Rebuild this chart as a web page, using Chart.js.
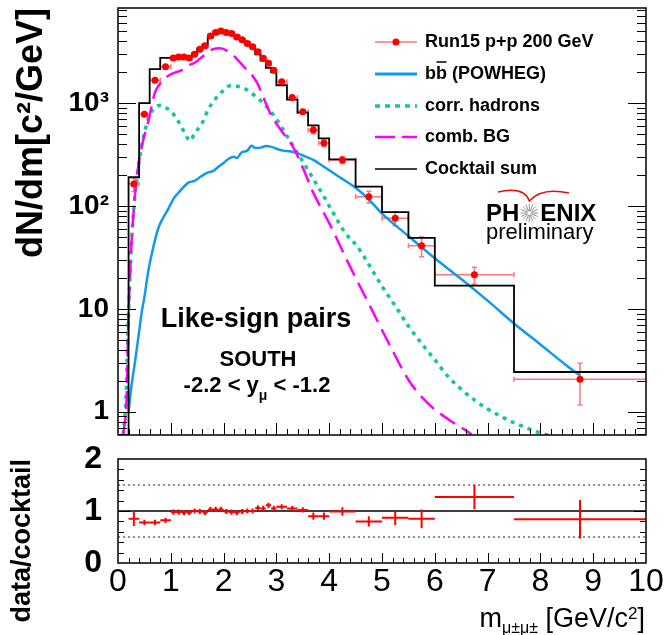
<!DOCTYPE html>
<html>
<head>
<meta charset="utf-8">
<script src="https://cdn.jsdelivr.net/npm/chart.js@4.4.1/dist/chart.umd.min.js"></script>
<style>
  html, body { margin: 0; padding: 0; background: #fff; }
  #wrap { position: relative; width: 667px; height: 635px; }
  #top { position: absolute; left: 0; top: 0; }
  #bottom { position: absolute; left: 0; top: 445px; }
</style>
</head>
<body>
<div id="wrap">
  <canvas id="top" width="667" height="445"></canvas>
  <canvas id="bottom" width="667" height="190"></canvas>
</div>
<script>
// Run15 p+p data (bin centres, half widths, yields, errors)
const dataMass = [0.3, 0.5, 0.7, 0.9,
    1.05, 1.15, 1.25, 1.35, 1.45, 1.55, 1.65, 1.75, 1.85, 1.95,
    2.05, 2.15, 2.25, 2.35, 2.45, 2.55, 2.65, 2.75, 2.85, 2.95,
    3.1, 3.3, 3.5, 3.7, 3.9, 4.25, 4.75, 5.25, 5.75, 6.75, 8.75];
const dataXerr = [0.1, 0.1, 0.1, 0.1,
    0.05, 0.05, 0.05, 0.05, 0.05, 0.05, 0.05, 0.05, 0.05, 0.05,
    0.05, 0.05, 0.05, 0.05, 0.05, 0.05, 0.05, 0.05, 0.05, 0.05,
    0.1, 0.1, 0.1, 0.1, 0.1, 0.25, 0.25, 0.25, 0.25, 0.75, 1.25];
const dataYield = [163, 780, 1670, 2250,
    2740, 2800, 2800, 2740, 2990, 3340, 3600, 4500, 4850, 5020,
    4850, 4750, 4400, 4120, 3800, 3520, 3150, 2720, 2440, 2090,
    1610, 1136, 824, 547, 409, 280, 123, 76, 41, 21.4, 2.06];
const dataYerr = [25, 25, 50, 65,
    80, 85, 85, 85, 90, 100, 110, 135, 145, 150,
    145, 145, 135, 125, 115, 105, 95, 85, 75, 65,
    50, 40, 33, 44, 33, 22, 16, 12, 9, 4, 0.9];

// cocktail sum histogram: bin edges and contents
const cocktailEdges = [0, 0.2, 0.4, 0.6, 0.8,
    1.0, 1.1, 1.2, 1.3, 1.4, 1.5, 1.6, 1.7, 1.8, 1.9,
    2.0, 2.1, 2.2, 2.3, 2.4, 2.5, 2.6, 2.7, 2.8, 2.9,
    3.0, 3.2, 3.4, 3.6, 3.8, 4.0, 4.5, 5.0, 5.5, 6.0, 7.5, 10];
const cocktailSum = [0.1, 190, 1000, 2140, 2750,
    2800, 2850, 2880, 2820, 3000, 3370, 3700, 4370, 4700, 4870,
    4900, 4850, 4530, 4160, 3800, 3520, 2970, 2590, 2200, 1990,
    1490, 1080, 808, 608, 454, 284, 154, 87, 49, 16.8, 2.43];

// b-bbar (POWHEG)
const bbMass = [0.2, 0.25, 0.32, 0.4, 0.45, 0.5, 0.57, 0.65, 0.76, 0.85, 0.95,
    1.05, 1.15, 1.27, 1.35, 1.46, 1.55, 1.65, 1.71, 1.8, 1.9, 2.0, 2.09, 2.2, 2.25,
    2.34, 2.45, 2.53, 2.6, 2.72, 2.8, 2.91, 3.0, 3.13, 3.25, 3.38, 3.5, 3.7, 3.9,
    4.2, 4.5, 4.75, 5.0, 5.5, 6.0, 6.5, 7.0, 7.5, 8.0, 8.5, 8.75];
const bbYield = [1.0, 1.7, 3.0, 6, 9.3, 13, 22.7, 36, 60, 76, 93,
    117, 135, 158, 170, 176, 190, 205, 212, 218, 240, 262, 286, 300, 292,
    331, 345, 385, 366, 371, 382, 375, 360, 345, 340, 328, 310, 280, 240,
    190, 150, 116, 84, 51, 31, 19.5, 12, 7.2, 4.5, 2.8, 2.25];

// correlated hadrons
const hadMass = [0.1, 0.15, 0.2, 0.25, 0.3, 0.38, 0.45, 0.51, 0.6, 0.7, 0.8, 0.9,
    1.0, 1.1, 1.2, 1.3, 1.36, 1.45, 1.6, 1.7, 1.84, 2.0, 2.12, 2.25, 2.4, 2.6,
    2.8, 3.0, 3.2, 3.32, 3.5, 3.7, 3.9, 4.14, 4.3, 4.52, 4.75, 5.0, 5.25, 5.5,
    5.75, 6.0, 6.25, 6.5, 6.75, 7.0, 7.25, 7.5, 7.75, 8.0, 8.3];
const hadYield = [0.6, 1.3, 9, 38, 95, 230, 390, 540, 760, 900, 950, 900,
    840, 720, 590, 470, 430, 505, 650, 850, 1090, 1330, 1470, 1460, 1380, 1170,
    940, 700, 480, 380, 270, 183, 123, 75, 55, 41, 27, 16.6, 10.7, 6.8,
    4.6, 3.2, 2.2, 1.65, 1.3, 1.06, 0.9, 0.78, 0.69, 0.62, 0.57];

// combinatorial background
const combMass = [0.1, 0.165, 0.2, 0.25, 0.3, 0.35, 0.45, 0.57, 0.7, 0.8, 0.89,
    1.0, 1.1, 1.2, 1.36, 1.46, 1.62, 1.8, 1.93, 2.12, 2.37, 2.63, 2.88, 3.07,
    3.32, 3.5, 3.7, 4.02, 4.39, 4.77, 5.15, 5.53, 5.91, 6.29, 6.6, 6.7];
const combYield = [0.6, 1.45, 9, 38, 95, 180, 380, 650, 1270, 1550, 1750,
    1900, 2000, 2080, 2350, 2480, 2890, 3340, 3420, 3100, 2300, 1590, 800, 560,
    371, 235, 134, 65, 26, 10.7, 4.4, 1.93, 1.15, 0.82, 0.65, 0.6];

// data / cocktail
const ratioVals = [0.85, 0.78, 0.78, 0.82,
    0.98, 0.98, 0.97, 0.97, 1.0, 0.99, 0.97, 1.03, 1.03, 1.03,
    0.99, 0.98, 0.97, 0.99, 1.0, 1.0, 1.06, 1.05, 1.11, 1.05,
    1.08, 1.05, 1.02, 0.90, 0.90, 0.99, 0.80, 0.87, 0.85, 1.27, 0.84];
const ratioErr = [0.14, 0.05, 0.05, 0.05,
    0.05, 0.05, 0.05, 0.05, 0.05, 0.05, 0.05, 0.05, 0.05, 0.05,
    0.05, 0.05, 0.05, 0.05, 0.05, 0.05, 0.05, 0.05, 0.05, 0.05,
    0.05, 0.05, 0.05, 0.07, 0.07, 0.08, 0.1, 0.14, 0.18, 0.23, 0.37];
const unityLevel = [1];
const dottedLevels = [0.5, 1.5];

// axis ticks
const yTicks = [1, 10, 100, 1000];
const yTickLabels = ['1', '10', '10²', '10³'];
const ratioTicks = [0, 1, 2];
const massTicks = [0, 1, 2, 3, 4, 5, 6, 7, 8, 9, 10];

const FONT = "'Liberation Sans', Arial, Helvetica, sans-serif";
const RED_ERR = 'rgba(255, 30, 30, 0.6)';
const BLUE = '#1199f0';
const GREEN = '#13c79a';
const MAGENTA = '#ff00ff';

function toPoints(xs, ys) {
    return xs.map((x, i) => ({ x: x, y: ys[i] }));
}

function histPoints(edges, vals) {
    const pts = vals.map((v, i) => ({ x: edges[i], y: v }));
    pts.push({ x: edges[edges.length - 1], y: vals[vals.length - 1] });
    return pts;
}

function levelLine(level) {
    return [{ x: 0, y: level }, { x: 10, y: level }];
}

// error bars drawn through the chart scales
function errorBarPlugin(id, hook, xs, ys, xerr, yerr, style) {
    return {
        id: id,
        [hook](chart) {
            const { ctx, chartArea, scales } = chart;
            const sx = scales.x, sy = scales.y;
            ctx.save();
            ctx.beginPath();
            ctx.rect(chartArea.left, chartArea.top, chartArea.width, chartArea.height);
            ctx.clip();
            ctx.strokeStyle = style.color;
            ctx.lineWidth = style.width;
            xs.forEach((m, i) => {
                const px = sx.getPixelForValue(m);
                const py = sy.getPixelForValue(ys[i]);
                const x0 = sx.getPixelForValue(m - xerr[i]);
                const x1 = sx.getPixelForValue(m + xerr[i]);
                const y0 = sy.getPixelForValue(ys[i] - yerr[i]);
                const y1 = sy.getPixelForValue(ys[i] + yerr[i]);
                ctx.beginPath();
                ctx.moveTo(x0, py); ctx.lineTo(x1, py);
                ctx.moveTo(px, y0); ctx.lineTo(px, y1);
                if (style.cap) {
                    const c = style.cap;
                    ctx.moveTo(x0, py - c); ctx.lineTo(x0, py + c);
                    ctx.moveTo(x1, py - c); ctx.lineTo(x1, py + c);
                    ctx.moveTo(px - c, y0); ctx.lineTo(px + c, y0);
                    ctx.moveTo(px - c, y1); ctx.lineTo(px + c, y1);
                }
                ctx.stroke();
            });
            ctx.restore();
        }
    };
}

// ROOT-style frame with inward ticks
function framePlugin(id, tickSet) {
    return {
        id: id,
        afterDraw(chart) {
            const { ctx, chartArea: a, scales } = chart;
            ctx.save();
            ctx.strokeStyle = '#000';
            ctx.lineWidth = 1;
            ctx.beginPath();
            tickSet.y.forEach(t => {
                const py = Math.round(scales.y.getPixelForValue(t.v)) + 0.5;
                ctx.moveTo(a.left, py); ctx.lineTo(a.left + t.len, py);
                ctx.moveTo(a.right, py); ctx.lineTo(a.right - t.len, py);
            });
            tickSet.x.forEach(t => {
                const px = Math.round(scales.x.getPixelForValue(t.v)) + 0.5;
                ctx.moveTo(px, a.bottom); ctx.lineTo(px, a.bottom - t.len);
            });
            ctx.stroke();
            ctx.lineWidth = 1.5;
            ctx.strokeRect(a.left, a.top, a.right - a.left, a.bottom - a.top);
            ctx.restore();
        }
    };
}

function logTickSet(min, max) {
    const ys = [];
    for (let d = -1; d <= 4; d++) {
        for (let k = 1; k <= 9; k++) {
            const v = k * Math.pow(10, d);
            if (v > min && v < max) ys.push({ v: v, len: k === 1 ? 18 : 9 });
        }
    }
    return ys;
}

function linTickSet(from, to, step, every, majorLen, minorLen) {
    const out = [];
    const n = Math.round((to - from) / step);
    for (let i = 1; i < n; i++) {
        out.push({ v: from + i * step, len: i % every === 0 ? majorLen : minorLen });
    }
    return out;
}

function drawParts(ctx, parts, x, y, align) {
    let total = 0;
    parts.forEach(p => { ctx.font = p.font; p.w = ctx.measureText(p.t).width; total += p.w; });
    let cx = align === 'center' ? x - total / 2 : align === 'right' ? x - total : x;
    parts.forEach(p => {
        ctx.font = p.font;
        ctx.fillText(p.t, cx, y + (p.dy || 0));
        cx += p.w;
    });
}

// legend, labels and logo in the upper panel
const upperTextPlugin = {
    id: 'upperText',
    afterDraw(chart) {
        const ctx = chart.ctx;
        ctx.save();
        ctx.fillStyle = '#000';
        ctx.textBaseline = 'middle';

        const rows = [42, 74, 106, 137, 169];
        const x0 = 375, x1 = 417, tx = 425;
        ctx.lineCap = 'butt';
        // data
        ctx.strokeStyle = RED_ERR; ctx.lineWidth = 1.5;
        ctx.beginPath(); ctx.moveTo(x0, rows[0]); ctx.lineTo(x1, rows[0]); ctx.stroke();
        ctx.fillStyle = '#ff0000';
        ctx.beginPath(); ctx.arc((x0 + x1) / 2, rows[0], 3.5, 0, Math.PI * 2); ctx.fill();
        // bb
        ctx.strokeStyle = BLUE; ctx.lineWidth = 3;
        ctx.beginPath(); ctx.moveTo(x0, rows[1]); ctx.lineTo(x1, rows[1]); ctx.stroke();
        // hadrons
        ctx.strokeStyle = GREEN; ctx.lineWidth = 3.5; ctx.setLineDash([5, 5]);
        ctx.beginPath(); ctx.moveTo(x0, rows[2]); ctx.lineTo(x1, rows[2]); ctx.stroke();
        // comb
        ctx.strokeStyle = MAGENTA; ctx.lineWidth = 2.5; ctx.setLineDash([20, 7]);
        ctx.beginPath(); ctx.moveTo(x0, rows[3]); ctx.lineTo(x1, rows[3]); ctx.stroke();
        ctx.setLineDash([]);
        // cocktail
        ctx.strokeStyle = '#000'; ctx.lineWidth = 1.5;
        ctx.beginPath(); ctx.moveTo(x0, rows[4]); ctx.lineTo(x1, rows[4]); ctx.stroke();

        ctx.fillStyle = '#000';
        ctx.font = 'bold 18px ' + FONT;
        ctx.fillText('Run15 p+p 200 GeV', tx, rows[0]);
        const bw = ctx.measureText('b').width;
        ctx.fillText('bb (POWHEG)', tx, rows[1]);
        ctx.lineWidth = 1.5;
        ctx.beginPath(); ctx.moveTo(tx + bw + 0.5, rows[1] - 12); ctx.lineTo(tx + 2 * bw - 0.5, rows[1] - 12); ctx.stroke();
        ctx.fillText('corr. hadrons', tx, rows[2]);
        ctx.fillText('comb. BG', tx, rows[3]);
        ctx.fillText('Cocktail sum', tx, rows[4]);

        // labels
        ctx.textAlign = 'center';
        ctx.font = 'bold 27px ' + FONT;
        ctx.fillText('Like-sign pairs', 256, 320);
        ctx.font = 'bold 22px ' + FONT;
        ctx.fillText('SOUTH', 258, 360);
        ctx.textAlign = 'left';
        drawParts(ctx, [
            { t: '-2.2 < y', font: 'bold 22px ' + FONT },
            { t: 'μ', font: 'bold 14px ' + FONT, dy: 10 },
            { t: ' < -1.2', font: 'bold 22px ' + FONT }
        ], 257, 386, 'center');

        // PHENIX preliminary
        ctx.font = 'bold 24px ' + FONT;
        ctx.fillText('PH', 486, 214);
        const phw = ctx.measureText('PH').width;
        const sx = 486 + phw + 10, sy = 213;
        ctx.fillText('ENIX', sx + 11, 214);
        ctx.strokeStyle = '#777'; ctx.lineWidth = 0.8;
        ctx.beginPath();
        for (let k = 0; k < 16; k++) {
            const ang = k * Math.PI / 8;
            ctx.moveTo(sx + 2 * Math.cos(ang), sy + 2 * Math.sin(ang));
            ctx.lineTo(sx + 9 * Math.cos(ang), sy + 9 * Math.sin(ang));
        }
        ctx.stroke();
        ctx.strokeStyle = '#e01010'; ctx.lineWidth = 1.6;
        ctx.beginPath();
        ctx.moveTo(498, 192);
        ctx.quadraticCurveTo(524, 186, sx, 201);
        ctx.quadraticCurveTo(sx + 12, 187, 569, 193);
        ctx.stroke();
        ctx.font = '22px ' + FONT;
        ctx.fillText('preliminary', 486, 233);
        ctx.restore();
    }
};

const xTitlePlugin = {
    id: 'xTitle',
    afterDraw(chart) {
        const ctx = chart.ctx;
        ctx.save();
        ctx.fillStyle = '#000';
        ctx.textBaseline = 'alphabetic';
        drawParts(ctx, [
            { t: 'm', font: '27px ' + FONT },
            { t: 'μ±μ±', font: '16px ' + FONT, dy: 6 },
            { t: ' [GeV/c', font: '27px ' + FONT },
            { t: '2', font: '17px ' + FONT, dy: -8 },
            { t: ']', font: '27px ' + FONT }
        ], 645, 182, 'right');
        ctx.restore();
    }
};

const upperY = { min: 0.593, max: 8400 };

new Chart(document.getElementById('top'), {
    type: 'line',
    data: {
        datasets: [
            {
                label: 'Run15 p+p 200 GeV',
                data: toPoints(dataMass, dataYield),
                showLine: false,
                pointRadius: 3.5,
                pointBackgroundColor: '#ff0000',
                pointBorderWidth: 0
            },
            {
                label: 'Cocktail sum',
                data: histPoints(cocktailEdges, cocktailSum),
                stepped: 'before',
                borderColor: '#000',
                borderWidth: 1.8,
                pointRadius: 0
            },
            {
                label: 'comb. BG',
                data: toPoints(combMass, combYield),
                borderColor: MAGENTA,
                borderWidth: 2.5,
                borderDash: [18, 8],
                cubicInterpolationMode: 'monotone',
                pointRadius: 0
            },
            {
                label: 'corr. hadrons',
                data: toPoints(hadMass, hadYield),
                borderColor: GREEN,
                borderWidth: 3.5,
                borderDash: [4, 5],
                cubicInterpolationMode: 'monotone',
                pointRadius: 0
            },
            {
                label: 'bb (POWHEG)',
                data: toPoints(bbMass, bbYield),
                borderColor: BLUE,
                borderWidth: 2.5,
                cubicInterpolationMode: 'monotone',
                pointRadius: 0
            }
        ]
    },
    options: {
        animation: false,
        responsive: false,
        events: [],
        layout: { padding: { left: 0, right: 21, top: 8, bottom: 10 } },
        scales: {
            x: { type: 'linear', min: 0, max: 10, display: false },
            y: {
                type: 'logarithmic',
                min: upperY.min,
                max: upperY.max,
                afterBuildTicks: s => { s.ticks = yTicks.map(v => ({ value: v })); },
                afterFit: s => { s.width = 118; s.paddingTop = 0; s.paddingBottom = 0; },
                grid: { display: false, drawTicks: false },
                border: { display: false },
                ticks: {
                    autoSkip: false,
                    padding: 9,
                    color: '#000',
                    font: { family: FONT, size: 28, weight: 'bold' },
                    callback: v => yTickLabels[yTicks.indexOf(v)]
                },
                title: {
                    display: true,
                    text: 'dN/dm[c²/GeV]',
                    align: 'end',
                    color: '#000',
                    padding: { top: 14, bottom: 0 },
                    font: { family: FONT, size: 36, weight: 'bold', lineHeight: 1 }
                }
            }
        },
        plugins: { legend: { display: false }, tooltip: { enabled: false } }
    },
    plugins: [
        errorBarPlugin('dataErr', 'beforeDatasetsDraw', dataMass, dataYield, dataXerr, dataYerr,
            { color: RED_ERR, width: 1.5, cap: 2.5 }),
        framePlugin('upperFrame', {
            y: logTickSet(upperY.min, upperY.max),
            x: linTickSet(0, 10, 0.2, 5, 12, 6)
        }),
        upperTextPlugin
    ]
});

new Chart(document.getElementById('bottom'), {
    type: 'line',
    data: {
        datasets: [
            {
                label: 'unity',
                data: levelLine(unityLevel[0]),
                borderColor: '#000',
                borderWidth: 1.5,
                pointRadius: 0
            },
            {
                label: 'low',
                data: levelLine(dottedLevels[0]),
                borderColor: '#222',
                borderWidth: 1,
                borderDash: [2, 3],
                pointRadius: 0
            },
            {
                label: 'high',
                data: levelLine(dottedLevels[1]),
                borderColor: '#222',
                borderWidth: 1,
                borderDash: [2, 3],
                pointRadius: 0
            },
            {
                label: 'data/cocktail',
                data: toPoints(dataMass, ratioVals),
                showLine: false,
                pointRadius: 0
            }
        ]
    },
    options: {
        animation: false,
        responsive: false,
        events: [],
        layout: { padding: { left: 0, right: 21, top: 14, bottom: 0 } },
        scales: {
            x: {
                type: 'linear',
                min: 0,
                max: 10,
                afterBuildTicks: s => { s.ticks = massTicks.map(v => ({ value: v })); },
                afterFit: s => { s.height = 72; s.paddingLeft = 0; s.paddingRight = 0; },
                grid: { display: false, drawTicks: false },
                border: { display: false },
                ticks: {
                    autoSkip: false,
                    maxRotation: 0,
                    padding: 0,
                    color: '#000',
                    font: { family: FONT, size: 32, lineHeight: 1.2 }
                }
            },
            y: {
                type: 'linear',
                min: 0,
                max: 2,
                afterBuildTicks: s => { s.ticks = ratioTicks.map(v => ({ value: v })); },
                afterFit: s => { s.width = 118; s.paddingTop = 0; s.paddingBottom = 0; },
                grid: { display: false, drawTicks: false },
                border: { display: false },
                ticks: {
                    autoSkip: false,
                    padding: 16,
                    color: '#000',
                    font: { family: FONT, size: 32, weight: 'bold' }
                },
                title: {
                    display: true,
                    text: 'data/cocktail',
                    align: 'end',
                    color: '#000',
                    padding: { top: 9, bottom: 0 },
                    font: { family: FONT, size: 27, weight: 'bold', lineHeight: 1 }
                }
            }
        },
        plugins: { legend: { display: false }, tooltip: { enabled: false } }
    },
    plugins: [
        errorBarPlugin('ratioErr', 'afterDatasetsDraw', dataMass, ratioVals, dataXerr, ratioErr,
            { color: '#ff0000', width: 2 }),
        framePlugin('lowerFrame', {
            y: linTickSet(0, 2, 0.2, 5, 12, 6),
            x: linTickSet(0, 10, 0.2, 5, 10, 5)
        }),
        xTitlePlugin
    ]
});
</script>
</body>
</html>
